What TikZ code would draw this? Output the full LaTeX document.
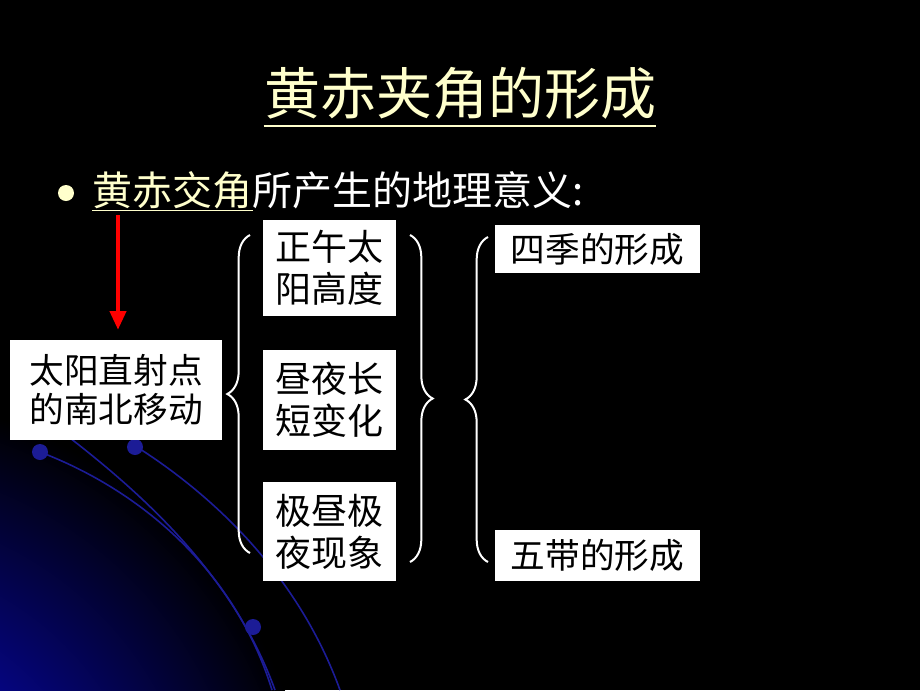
\documentclass[tikz,border=0pt]{standalone}
\usepackage{fontspec}
\newfontfamily\cjk{Noto Sans CJK SC}
\usetikzlibrary{arrows.meta,positioning,decorations.pathreplacing}
\definecolor{paleyellow}{RGB}{255,255,204}
\definecolor{orbitblue}{RGB}{28,28,150}
\definecolor{glowblue}{RGB}{10,10,245}
\tikzset{
	card/.style={fill=white,text=black,align=center,inner sep=0pt},
	cardfont/.style={font=\cjk\fontsize{27}{31.5}\selectfont},
	curly/.style={draw=white,line width=1.5pt,decorate,decoration={brace,amplitude=17pt}},
	orbit/.style={orbitblue,line width=1.2pt},
}

\begin{document}
\begin{tikzpicture}[x=0.75pt,y=-0.75pt]
	\fill[black] (0,0) rectangle (920,690);
	\useasboundingbox (0,0) rectangle (920,690);
	\begin{scope}
		\clip (0,0) rectangle (920,690);
		\shade[inner color=glowblue,outer color=black] (-150,860) circle (350pt);
		\draw[orbit] (40,452) .. controls (140,490) and (235,570) .. (272,690);
		\draw[orbit] (70,438) .. controls (150,500) and (235,580) .. (275,690);
		\draw[orbit] (137,447) .. controls (220,500) and (300,580) .. (340,690);
		\fill[orbitblue] (40,452) circle (6pt);
		\fill[orbitblue] (135,447) circle (6pt);
		\fill[orbitblue] (253,627) circle (6pt);
	\end{scope}

	\node (title) [text=paleyellow,inner sep=0pt,font=\cjk\fontsize{42}{42}\selectfont] at (460,93) {黄赤夹角的形成};
	\draw[paleyellow,line width=1.5pt] ([yshift=-5pt]title.south west) -- ([yshift=-5pt]title.south east);

	\node (dot) [circle,fill=paleyellow,minimum size=12pt,inner sep=0pt] at (66,193) {};
	\node (axial) [anchor=west,text=paleyellow,inner sep=0pt,font=\cjk\fontsize{30}{30}\selectfont] at (92,190) {黄赤交角};
	\node (meaning) [right=0pt of axial,text=white,inner sep=0pt,font=\cjk\fontsize{30}{30}\selectfont] {所产生的地理意义:};
	\draw[paleyellow,line width=1pt] ([yshift=-1pt]axial.south west) -- ([yshift=-1pt]axial.south east);

	\node (sun) [card,minimum width=159pt,minimum height=75pt,font=\cjk\fontsize{26}{29.5}\selectfont] at (116,390) {太阳直射点\\的南北移动};
	\coordinate (tail) at (118,215);
	\draw[red,line width=3pt,shorten >=7.5pt,-{Triangle[width=12pt,length=14pt]}] (tail) -- (tail |- sun.north);

	\node (noon) [card,cardfont,minimum width=100pt,minimum height=72pt] at (329.5,268) {正午太\\阳高度};
	\node (daynight) [card,cardfont,minimum width=100pt,minimum height=75pt] at (329.5,400) {昼夜长\\短变化};
	\node (polar) [card,cardfont,minimum width=100pt,minimum height=74pt] at (329.5,531.5) {极昼极\\夜现象};

	\node (seasons) [card,font=\cjk\fontsize{26}{26}\selectfont,minimum width=154pt,minimum height=36pt] at (597.5,249) {四季的形成};
	\node (zones) [card,font=\cjk\fontsize{26}{26}\selectfont,minimum width=154pt,minimum height=38pt] at (597.5,555.5) {五带的形成};

	\draw[curly] (250,553) -- (250,235);
	\draw[curly] (410,235) -- (410,562);
	\draw[curly] (488,562) -- (488,237);
\end{tikzpicture}
\end{document}
